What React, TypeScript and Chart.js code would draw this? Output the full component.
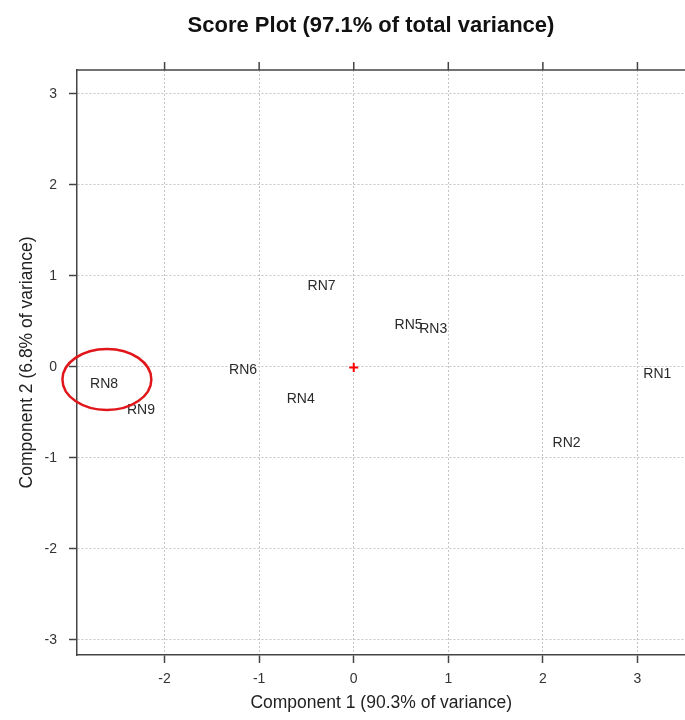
import React, { useEffect, useRef } from "react";
import { Chart, registerables } from "chart.js";

Chart.register(...registerables);

const sampleNames = ["RN1", "RN2", "RN3", "RN4", "RN5", "RN6", "RN7", "RN8", "RN9"];
const component1 = [3.21, 2.25, 0.84, -0.56, 0.58, -1.17, -0.34, -2.64, -2.25];
const component2 = [-0.07, -0.83, 0.43, -0.34, 0.47, -0.03, 0.9, -0.18, -0.46];
const centroid = [{ x: 0, y: -0.01 }];
// highlighted ellipse (data units): center x, center y, radius x, radius y
const highlightEllipse = { cx: -2.61, cy: -0.14, rx: 0.47, ry: 0.335 };

const xRange = { min: -2.926, max: 3.508 };
const yRange = { min: -3.168, max: 3.26 };

const chartTitle = "Score Plot (97.1% of total variance)";
const xTitle = "Component 1 (90.3% of variance)";
const yTitle = "Component 2 (6.8% of variance)";

const FONT = "'Liberation Sans', Arial, Helvetica, sans-serif";
const AXIS_COLOR = "#444";
const GRID_COLOR = "#c4c4c4";

const overlayPlugin = {
  id: "overlay",
  afterDraw(chart: any) {
    const { ctx, chartArea, scales } = chart;
    const xs = scales.x;
    const ys = scales.y;
    ctx.save();
    // top border
    ctx.strokeStyle = AXIS_COLOR;
    ctx.lineWidth = 1.5;
    ctx.beginPath();
    ctx.moveTo(chartArea.left, chartArea.top);
    ctx.lineTo(chartArea.right, chartArea.top);
    ctx.stroke();
    // top tick marks
    xs.ticks.forEach((t: any) => {
      const px = xs.getPixelForValue(t.value);
      ctx.beginPath();
      ctx.moveTo(px, chartArea.top);
      ctx.lineTo(px, chartArea.top - 8);
      ctx.stroke();
    });
    // sample labels
    const meta = chart.getDatasetMeta(0);
    ctx.fillStyle = "#2a2a2a";
    ctx.font = `14px ${FONT}`;
    ctx.textAlign = "center";
    ctx.textBaseline = "alphabetic";
    meta.data.forEach((el: any, i: number) => {
      ctx.fillText(sampleNames[i], el.x, el.y + 5);
    });
    // highlight ellipse
    const cx = xs.getPixelForValue(highlightEllipse.cx);
    const cy = ys.getPixelForValue(highlightEllipse.cy);
    const rx = Math.abs(xs.getPixelForValue(highlightEllipse.cx + highlightEllipse.rx) - cx);
    const ry = Math.abs(ys.getPixelForValue(highlightEllipse.cy + highlightEllipse.ry) - cy);
    ctx.strokeStyle = "#e0161b";
    ctx.lineWidth = 2.5;
    ctx.beginPath();
    ctx.ellipse(cx, cy, rx, ry, 0, 0, Math.PI * 2);
    ctx.stroke();
    // main title
    ctx.fillStyle = "#111";
    ctx.font = `bold 22px ${FONT}`;
    ctx.textAlign = "center";
    ctx.fillText(chartTitle, 371, 32);
    ctx.restore();
  },
};

export default function App() {
  const ref = useRef<HTMLCanvasElement | null>(null);

  useEffect(() => {
    if (!ref.current) return;
    const points = component1.map((x, i) => ({ x, y: component2[i] }));
    const chart = new Chart(ref.current, {
      type: "scatter",
      data: {
        datasets: [
          {
            label: "scores",
            data: points,
            pointRadius: 0,
            pointHoverRadius: 0,
            showLine: false,
          },
          {
            label: "centroid",
            data: centroid,
            pointStyle: "cross",
            pointRadius: 4.5,
            pointHoverRadius: 4.5,
            borderColor: "#ff0000",
            backgroundColor: "#ff0000",
            pointBorderWidth: 2,
            borderWidth: 2,
          },
        ],
      },
      options: {
        responsive: false,
        animation: false,
        events: [],
        layout: { padding: { top: 70, left: 12.5, right: 0, bottom: 2 } },
        plugins: {
          legend: { display: false },
          tooltip: { enabled: false },
          title: { display: false },
        },
        scales: {
          x: {
            type: "linear",
            min: xRange.min,
            max: xRange.max,
            afterFit: (s: any) => {
              s.height = 63;
            },
            ticks: {
              stepSize: 1,
              includeBounds: false,
              color: "#333",
              font: { family: FONT, size: 14 },
              padding: 8,
              maxRotation: 0,
            },
            grid: {
              color: GRID_COLOR,
              lineWidth: 1,
              tickColor: AXIS_COLOR,
              tickLength: 8,
              tickWidth: 1.5,
              tickBorderDash: [],
            } as any,
            border: { display: true, color: AXIS_COLOR, width: 1.5, dash: [2, 2] },
            title: {
              display: true,
              text: xTitle,
              color: "#222",
              font: { family: FONT, size: 17.5 },
            },
          },
          y: {
            type: "linear",
            min: yRange.min,
            max: yRange.max,
            afterFit: (s: any) => {
              s.width = 64.5;
            },
            ticks: {
              stepSize: 1,
              includeBounds: false,
              color: "#333",
              font: { family: FONT, size: 14 },
              padding: 12,
            },
            grid: {
              color: GRID_COLOR,
              lineWidth: 1,
              tickColor: AXIS_COLOR,
              tickLength: 8,
              tickWidth: 1.5,
              tickBorderDash: [],
            } as any,
            border: { display: true, color: AXIS_COLOR, width: 1.5, dash: [2, 2] },
            title: {
              display: true,
              text: yTitle,
              color: "#222",
              font: { family: FONT, size: 17.5 },
            },
          },
        },
      },
      plugins: [overlayPlugin],
    });
    return () => chart.destroy();
  }, []);

  return (
    <div
      style={{
        position: "absolute",
        left: 0,
        top: 0,
        width: 685,
        height: 720,
        overflow: "hidden",
        background: "#fff",
      }}
    >
      <canvas ref={ref} width={692} height={720} style={{ display: "block" }} />
    </div>
  );
}
